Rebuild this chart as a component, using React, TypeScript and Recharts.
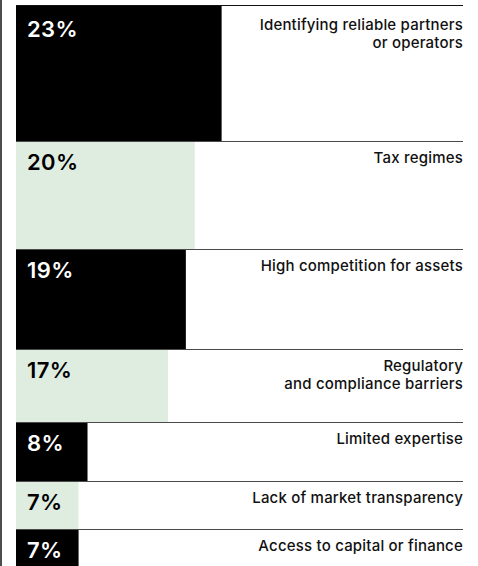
import { Bar, BarChart, LabelList, XAxis, YAxis } from "recharts";

const categories = [
  "Identifying reliable partners\nor operators",
  "Tax regimes",
  "High competition for assets",
  "Regulatory\nand compliance barriers",
  "Limited expertise",
  "Lack of market transparency",
  "Access to capital or finance",
];
const shares = [23, 20, 19, 17, 8, 7, 7];

// row heights in px (incl. the 1px rule on top); the last row is cut by the frame
const ROW_HEIGHTS = [136, 108, 100, 73, 59, 48, 37];
const X_MAX = 50;
const PLOT_W = 447;
const DARK = "#000000";
const LIGHT = "#dfede1";
const FONT = "Inter, 'Noto Sans', sans-serif";

function NameLabel(props: any) {
  const { y, value, pad } = props;
  const lines = String(value).split("\n");
  return (
    <g>
      {lines.map((l, i) => (
        <text
          key={i}
          x={PLOT_W}
          y={y + 21 + pad + i * 18}
          textAnchor="end"
          fontFamily={FONT}
          fontSize={15}
          fontWeight={500}
          letterSpacing={0.2}
          fill="#111"
        >
          {l}
        </text>
      ))}
    </g>
  );
}

function PctLabel(props: any) {
  const { x, y, value, dark, pad } = props;
  return (
    <text
      x={x + 11}
      y={y + 28 + pad}
      fontFamily={FONT}
      fontSize={22}
      fontWeight={600}
      letterSpacing={0.4}
      fill={dark ? "#fff" : "#000"}
    >
      {value}%
    </text>
  );
}

function Row({ name, value, index }: { name: string; value: number; index: number }) {
  const dark = index % 2 === 0;
  const h = ROW_HEIGHTS[index] - 1;
  // the first block sits its labels a touch lower
  const pad = index === 0 ? 3 : 0;
  return (
    <div style={{ borderTop: `1px solid ${index === 0 ? "#111" : "#4a4a4a"}`, width: PLOT_W }}>
      <BarChart
        width={PLOT_W}
        height={h}
        data={[{ name, value }]}
        layout="vertical"
        margin={{ top: 0, right: 0, bottom: 0, left: 0 }}
        barCategoryGap={0}
      >
        <XAxis type="number" domain={[0, X_MAX]} hide />
        <YAxis type="category" dataKey="name" hide />
        <Bar dataKey="value" fill={dark ? DARK : LIGHT} isAnimationActive={false}>
          <LabelList dataKey="value" content={<PctLabel dark={dark} pad={pad} />} />
          <LabelList dataKey="name" content={<NameLabel pad={pad} />} />
        </Bar>
      </BarChart>
    </div>
  );
}

export default function App() {
  return (
    <div style={{ position: "relative", width: 478, height: 566, overflow: "hidden", background: "#fff" }}>
      <style>{"body{margin:0}"}</style>
      <div style={{ position: "absolute", left: 0, top: 0, width: 2, height: 566, background: "#4d4d4d" }} />
      <div style={{ position: "absolute", left: 16, top: 5 }}>
        {categories.map((c, i) => (
          <Row key={i} name={c} value={shares[i]} index={i} />
        ))}
      </div>
    </div>
  );
}
